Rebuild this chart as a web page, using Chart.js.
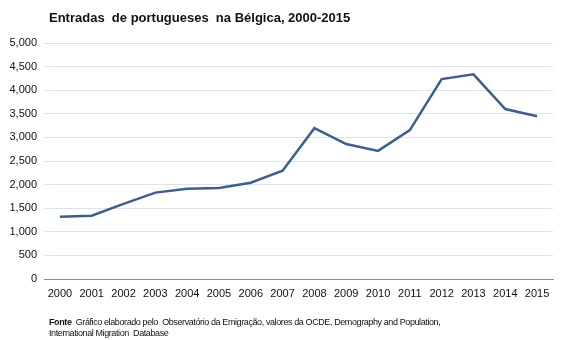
<!DOCTYPE html>
<html lang="pt">
<head>
<meta charset="utf-8">
<title>Entradas de portugueses na Bélgica</title>
<script src="https://cdn.jsdelivr.net/npm/chart.js@4/dist/chart.umd.min.js"></script>
<style>
  html, body { margin: 0; padding: 0; background: #fff; }
  #wrap { position: relative; width: 567px; height: 340px; font-family: Arial, "Liberation Sans", sans-serif; }
  #grafico { position: absolute; left: 0; top: 0; }
  #titulo { position: absolute; left: 49px; top: 10px; font-size: 13px; font-weight: bold; color: #111; white-space: pre; }
  #fonte { position: absolute; left: 49px; top: 317px; font-size: 9px; line-height: 11px; letter-spacing: -0.4px; color: #111; white-space: pre; }
</style>
</head>
<body>
<div id="wrap">
  <canvas id="grafico" width="567" height="340"></canvas>
  <div id="titulo">Entradas  de portugueses  na Bélgica, 2000-2015</div>
  <div id="fonte"><b>Fonte</b>  Gráfico elaborado pelo  Observatório da Emigração, valores da OCDE, Demography and Population,
International Migration  Database</div>
</div>
<script>
// Anos e entradas
const anos = ['2000', '2001', '2002', '2003', '2004', '2005', '2006', '2007',
              '2008', '2009', '2010', '2011', '2012', '2013', '2014', '2015'];
const entradas = [1320, 1340, 1590, 1830, 1910, 1930, 2040, 2295,
                  3195, 2860, 2715, 3155, 4235, 4335, 3600, 3450];
const yMax = 5000;
const yPasso = 500;

const ctx = document.getElementById('grafico').getContext('2d');

new Chart(ctx, {
  type: 'line',
  data: {
    labels: anos,
    datasets: [{
      data: entradas,
      borderColor: '#3e5f8a',
      borderWidth: 2.5,
      pointRadius: 0,
      tension: 0,
      fill: false
    }]
  },
  options: {
    responsive: false,
    animation: false,
    layout: { padding: { left: 0, right: 14, top: 43, bottom: 40 } },
    plugins: {
      legend: { display: false },
      tooltip: { enabled: false }
    },
    scales: {
      x: {
        offset: true,
        grid: { display: false, drawTicks: false },
        border: { display: true, color: '#8a8a8a', width: 1 },
        ticks: {
          color: '#111',
          font: { family: 'Arial', size: 11 },
          padding: 8,
          maxRotation: 0,
          autoSkip: false
        },
        afterFit: (s) => { s.height = 21; }
      },
      y: {
        min: 0,
        max: yMax,
        grid: {
          color: (c) => c.tick && c.tick.value === 0 ? '#8a8a8a' : '#dde3ea',
          drawTicks: false
        },
        border: { display: false },
        ticks: {
          stepSize: yPasso,
          color: '#111',
          font: { family: 'Arial', size: 11 },
          padding: 7,
          callback: (v) => v.toLocaleString('en-US')
        },
        afterFit: (s) => { s.width = 44; }
      }
    }
  }
});
</script>
</body>
</html>
